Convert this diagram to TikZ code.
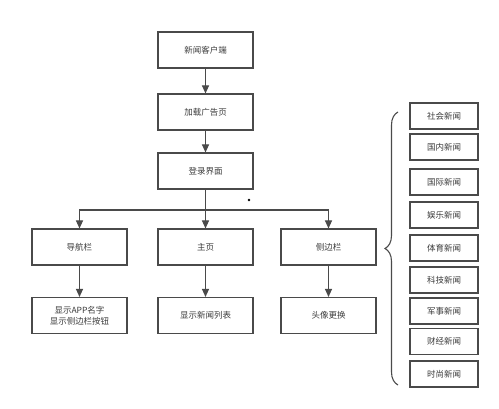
\documentclass[tikz,border=0pt]{standalone}
\usepackage{fontspec}
\newfontfamily\cjk{Noto Sans CJK SC}
\usetikzlibrary{arrows.meta,decorations.pathreplacing}
\definecolor{boxline}{HTML}{4A4A4A}
\definecolor{boxtext}{HTML}{3A3A3A}
\tikzset{
 flow/.style={draw=boxline,line width=1.1pt,minimum width=95pt,minimum height=36pt,align=center},
 cat/.style={draw=boxline,line width=1.1pt,minimum width=68pt,minimum height=26pt},
 link/.style={draw=boxline,line width=1.1pt,-{Triangle[width=7pt,length=8pt]}}
}
\newcommand{\catbox}[3]{%
 \node[cat] ({#1}) at ({#2}) {#3};%
}

\begin{document}
\begin{tikzpicture}[x=1pt,y=-1pt,every node/.style={font=\cjk\fontsize{8.5}{11}\selectfont,text=boxtext}]
   \useasboundingbox (0,0) rectangle (499,409);
   % main column
   \node[flow] (client) at (205.5,50) {新闻客户端};
   \node[flow] (ad) at (205.5,112) {加载广告页};
   \node[flow] (login) at (205.5,171) {登录界面};
   \node[flow] (nav) at (79.5,247) {导航栏};
   \node[flow] (home) at (205.5,247) {主页};
   \node[flow] (side) at (328.5,247) {侧边栏};
   \node[flow] (navshow) at (79.5,315.5) {显示APP名字\\显示侧边栏按钮};
   \node[flow] (list) at (205.5,315.5) {显示新闻列表};
   \node[flow] (avatar) at (328.5,315.5) {头像更换};
   \coordinate (split) at (205.5,210);
   \path[link] (client) -- (ad);
   \path[link] (ad) -- (login);
   \draw[boxline,line width=1.1pt] (login) -- (split);
   \path[link] (split) -| (nav);
   \path[link] (split) -- (home);
   \path[link] (split) -| (side);
   \path[link] (nav) -- (navshow);
   \path[link] (home) -- (list);
   \path[link] (side) -- (avatar);
   \fill[black] (249,200) circle (1.4);
   % news categories
   \catbox{c1}{444,116}{社会新闻}
   \catbox{c2}{444,147}{国内新闻}
   \catbox{c3}{444,182}{国际新闻}
   \catbox{c4}{444,215}{娱乐新闻}
   \catbox{c5}{444,248}{体育新闻}
   \catbox{c6}{444,280}{科技新闻}
   \catbox{c7}{444,311}{军事新闻}
   \catbox{c8}{444,341.5}{财经新闻}
   \catbox{c9}{444,374}{时尚新闻}
   \coordinate (bracetop) at (398,112);
   \coordinate (bracebot) at (398,385);
   \draw[boxline,line width=1.1pt,decorate,decoration={brace,amplitude=13pt}] (bracebot) -- (bracetop);
\end{tikzpicture}
\end{document}
